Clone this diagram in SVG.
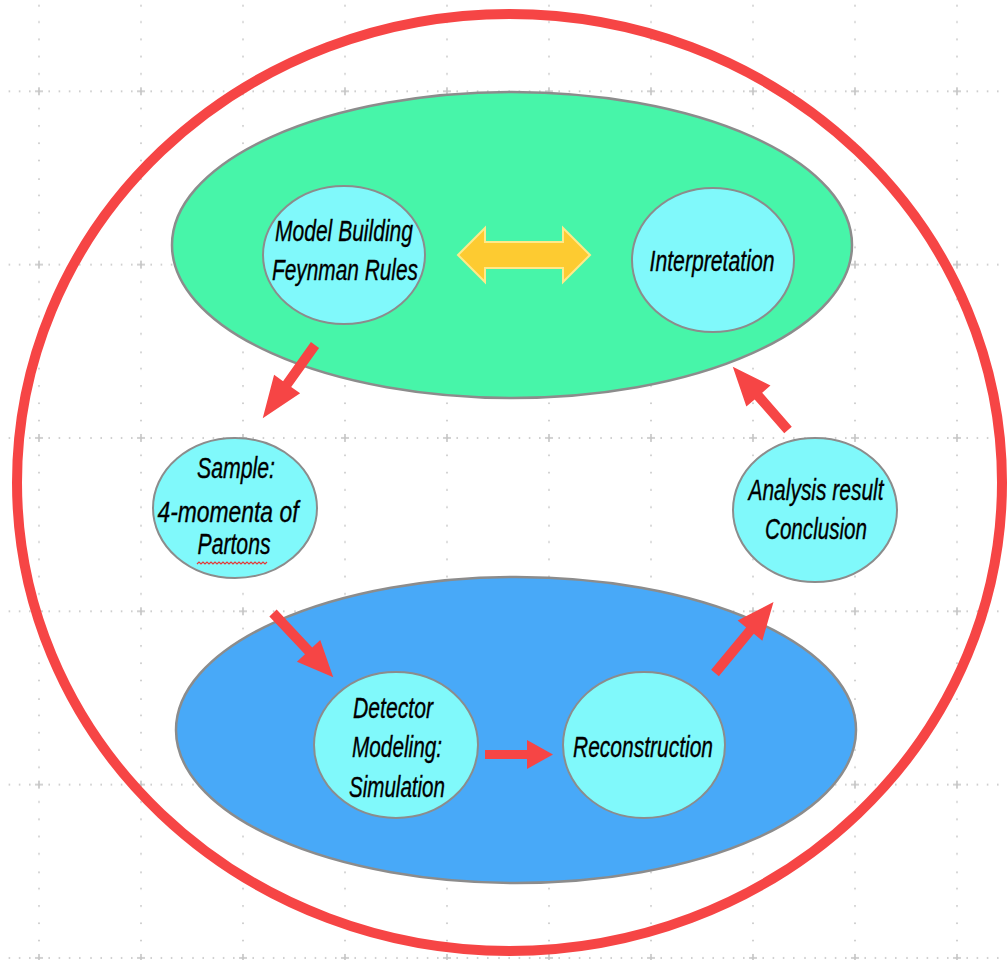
<svg xmlns="http://www.w3.org/2000/svg" width="1008" height="960" viewBox="0 0 1008 960">
  <defs>
    <style>
      .node { fill: #80F9FB; stroke: #8c8c8c; stroke-width: 2; }
      .label { font-family: "Liberation Sans", Arial, sans-serif; font-style: italic; font-size: 30px; fill: #000; stroke: #000; stroke-width: 0.35; text-anchor: middle; }
      .arrow { fill: #F64545; }
      .dot { fill: #c4c4c4; }
    </style>
    <!-- dotted guide grid: one cell with its crossing in the middle -->
    <pattern id="grid" patternUnits="userSpaceOnUse" x="-12" y="4.63" width="102" height="173.33">
      <g class="dot">
        <rect x="0.2" y="85.9" width="1.6" height="1.6"/>
        <rect x="10.4" y="85.9" width="1.6" height="1.6"/>
        <rect x="20.6" y="85.9" width="1.6" height="1.6"/>
        <rect x="30.8" y="85.9" width="1.6" height="1.6"/>
        <rect x="41.0" y="85.9" width="1.6" height="1.6"/>
        <rect x="60.4" y="85.9" width="1.6" height="1.6"/>
        <rect x="70.6" y="85.9" width="1.6" height="1.6"/>
        <rect x="80.8" y="85.9" width="1.6" height="1.6"/>
        <rect x="91.0" y="85.9" width="1.6" height="1.6"/>
        <rect x="50.2" y="0.3" width="1.6" height="1.6"/>
        <rect x="50.2" y="16.6" width="1.6" height="1.6"/>
        <rect x="50.2" y="33.9" width="1.6" height="1.6"/>
        <rect x="50.2" y="51.2" width="1.6" height="1.6"/>
        <rect x="50.2" y="68.5" width="1.6" height="1.6"/>
        <rect x="50.2" y="103.2" width="1.6" height="1.6"/>
        <rect x="50.2" y="120.5" width="1.6" height="1.6"/>
        <rect x="50.2" y="137.8" width="1.6" height="1.6"/>
        <rect x="50.2" y="155.1" width="1.6" height="1.6"/>
      </g>
      <path d="M47 86.67 H55 M51 82.67 V90.67" stroke="#c4c4c4" stroke-width="1.6" fill="none"/>
    </pattern>
  </defs>

  <rect width="1008" height="960" fill="#ffffff"/>
  <rect width="1008" height="960" fill="url(#grid)"/>

  <!-- outer boundary -->
  <ellipse id="boundary" cx="509.5" cy="482.5" rx="492.5" ry="468.5" fill="none" stroke="#F64545" stroke-width="10"/>

  <!-- theory region -->
  <g id="theory">
    <ellipse cx="512" cy="245" rx="340" ry="153" fill="#47F5A9" stroke="#8c8c8c" stroke-width="2.5"/>
  </g>

  <!-- experiment region -->
  <g id="experiment">
    <ellipse cx="516" cy="730" rx="340" ry="153" fill="#48A9F8" stroke="#8c8c8c" stroke-width="2.5"/>
  </g>

  <g id="model-building">
    <ellipse class="node" cx="344" cy="255" rx="81" ry="69"/>
    <text class="label" x="344" y="241" textLength="138" lengthAdjust="spacingAndGlyphs">Model Building</text>
    <text class="label" x="345" y="280" textLength="146" lengthAdjust="spacingAndGlyphs">Feynman Rules</text>
  </g>

  <g id="interpretation">
    <ellipse class="node" cx="713" cy="260" rx="81" ry="72"/>
    <text class="label" x="712" y="271" textLength="125" lengthAdjust="spacingAndGlyphs">Interpretation</text>
  </g>

  <g id="sample">
    <ellipse class="node" cx="235" cy="508" rx="82" ry="70"/>
    <text class="label" x="236" y="478" textLength="78" lengthAdjust="spacingAndGlyphs">Sample:</text>
    <text class="label" x="228" y="522" textLength="141" lengthAdjust="spacingAndGlyphs">4-momenta of</text>
    <text class="label" x="234" y="554" textLength="73" lengthAdjust="spacingAndGlyphs">Partons</text>
    <path d="M197 564 l2 -2 l2 2 l2 -2 l2 2 l2 -2 l2 2 l2 -2 l2 2 l2 -2 l2 2 l2 -2 l2 2 l2 -2 l2 2 l2 -2 l2 2 l2 -2 l2 2 l2 -2 l2 2 l2 -2 l2 2 l2 -2 l2 2 l2 -2 l2 2 l2 -2 l2 2 l2 -2 l2 2 l2 -2 l2 2 l2 -2 l2 2 l2 -2" fill="none" stroke="#e23a3a" stroke-width="1.2"/>
  </g>

  <g id="analysis">
    <ellipse class="node" cx="815" cy="510" rx="82" ry="72"/>
    <text class="label" x="816" y="500" textLength="135" lengthAdjust="spacingAndGlyphs">Analysis result</text>
    <text class="label" x="816" y="539" textLength="102" lengthAdjust="spacingAndGlyphs">Conclusion</text>
  </g>

  <g id="detector">
    <ellipse class="node" cx="396" cy="745" rx="82" ry="73"/>
    <text class="label" x="393" y="718" textLength="80" lengthAdjust="spacingAndGlyphs">Detector</text>
    <text class="label" x="397" y="757" textLength="90" lengthAdjust="spacingAndGlyphs">Modeling:</text>
    <text class="label" x="397" y="797" textLength="96" lengthAdjust="spacingAndGlyphs">Simulation</text>
  </g>

  <g id="reconstruction">
    <ellipse class="node" cx="644" cy="745" rx="81" ry="73"/>
    <text class="label" x="643" y="757" textLength="140" lengthAdjust="spacingAndGlyphs">Reconstruction</text>
  </g>

  <g id="connectors">
    <!-- two-way link between model building and interpretation -->
    <polygon points="458,255 485,228 485,242 563,242 563,228 590,255 563,282 563,268 485,268 485,282" fill="#FDCB31" stroke="#FFE98A" stroke-width="2" stroke-linejoin="miter"/>
    <!-- model building to sample -->
    <polygon class="arrow" points="0,-5 48,-5 48,-16 90,0 48,16 48,5 0,5" transform="translate(315,345) rotate(125.5)"/>
    <!-- sample to detector modeling -->
    <polygon class="arrow" points="0,-5 52,-5 52,-16 88,0 52,16 52,5 0,5" transform="translate(273,613) rotate(46.8)"/>
    <!-- detector modeling to reconstruction -->
    <polygon class="arrow" points="485,750 527,750 527,740 553,754.5 527,769 527,759 485,759"/>
    <!-- reconstruction to analysis -->
    <polygon class="arrow" points="0,-5 55,-5 55,-16 92,0 55,16 55,5 0,5" transform="translate(715,673) rotate(-50.5)"/>
    <!-- analysis back to theory -->
    <polygon class="arrow" points="0,-5 45,-5 45,-16 84,0 45,16 45,5 0,5" transform="translate(788,430) rotate(-131.1)"/>
  </g>
</svg>
